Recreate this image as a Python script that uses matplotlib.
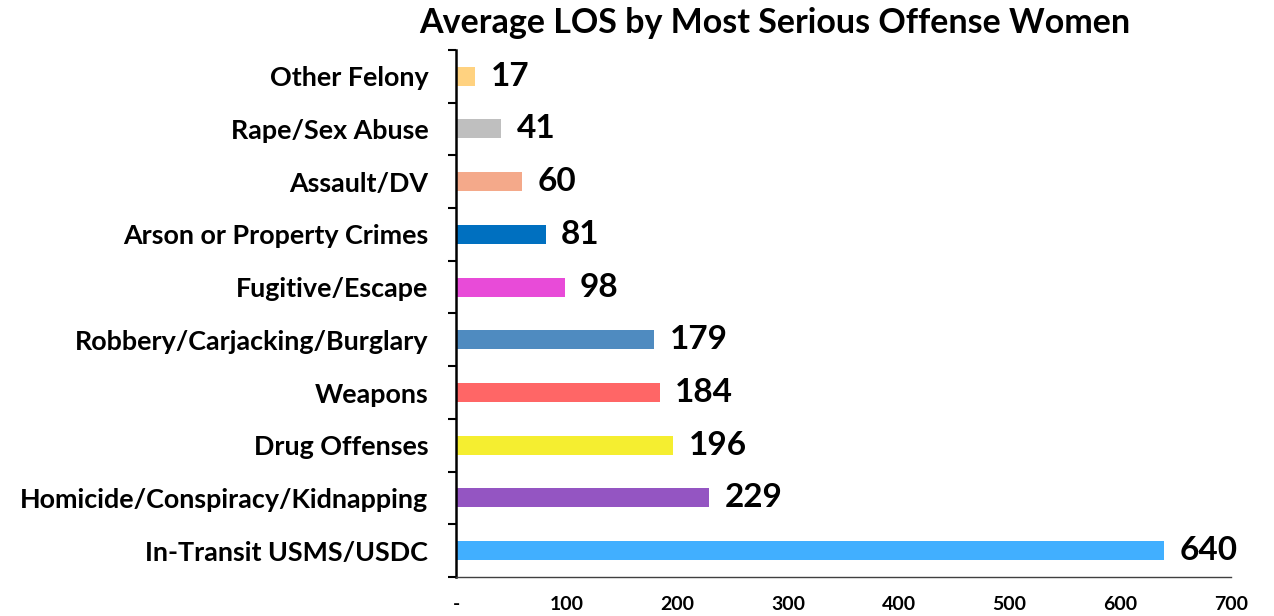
import numpy as np
import matplotlib.pyplot as plt

categories = ['In-Transit USMS/USDC', 'Homicide/Conspiracy/Kidnapping', 'Drug Offenses',
              'Weapons', 'Robbery/Carjacking/Burglary', 'Fugitive/Escape',
              'Arson or Property Crimes', 'Assault/DV', 'Rape/Sex Abuse', 'Other Felony']
los = [640, 229, 196, 184, 179, 98, 81, 60, 41, 17]
colors = ['#41AFFF', '#9455C2', '#F5EE30', '#FF6666', '#4F8BC0', '#E84BD8',
          '#0070C0', '#F4A98A', '#BFBFBF', '#FFD280']
xticks = [0, 100, 200, 300, 400, 500, 600, 700]
xlabels = ['-', '100', '200', '300', '400', '500', '600', '700']

plt.rcParams['font.family'] = ['Lato', 'DejaVu Sans']
plt.rcParams['font.weight'] = 'bold'

fig = plt.figure(figsize=(12.74, 6.16), dpi=100)
ax = fig.add_axes([0.358, 0.0633, 0.608, 0.8557])

y = np.arange(len(categories))
ax.barh(y, los, height=0.36, color=colors)
for yi, v in zip(y, los):
    ax.text(v + 14, yi, str(v), va='center', ha='left', fontsize=24, fontweight='bold')

ax.set_xlim(0, 700)
ax.set_ylim(-0.5, len(categories) - 0.5)
ax.set_xticks(xticks)
ax.set_xticklabels(xlabels, fontsize=14, fontweight='bold')
ax.tick_params(axis='x', length=0, pad=14)
ax.set_yticks(y)
ax.set_yticklabels(categories, fontsize=19.4, fontweight='bold')
ax.tick_params(axis='y', which='major', length=0, pad=20)
ax.set_yticks(np.arange(-0.5, len(categories)), minor=True)
ax.tick_params(axis='y', which='minor', length=6, width=1.5, direction='out')

for s in ['top', 'right']:
    ax.spines[s].set_visible(False)
ax.spines['left'].set_linewidth(1.8)
ax.spines['left'].set_color('black')
ax.spines['bottom'].set_linewidth(1)
ax.spines['bottom'].set_color('#404040')

fig.text(0.608, 0.962, 'Average LOS by Most Serious Offense Women', ha='center', va='center',
         fontsize=24.5, fontweight='bold')

fig.savefig('out.png', dpi=100)
